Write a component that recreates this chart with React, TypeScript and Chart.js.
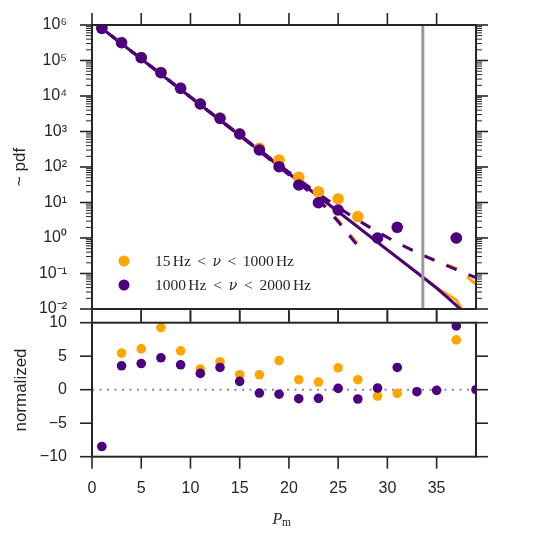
import React, { useEffect, useRef } from "react";
import { Chart, registerables } from "chart.js";

Chart.register(...registerables);

const ORANGE = "#FFA500";
const PURPLE = "#4B0082";
const INK = "#262626";
const CUTOFF_GRAY = "#9a9a9a";
const ZERO_GRAY = "#8a8a8a";
const SANS = '"Liberation Sans", Arial, sans-serif';
const SERIF = '"Liberation Serif", "Times New Roman", serif';
const GREEK = '"DejaVu Serif", serif';

// Binned distribution, 15 Hz < nu < 1000 Hz
const orangePm = [1, 3, 5, 7, 9, 11, 13, 15, 17, 19, 21, 23, 25, 27, 37];
const orangePdf = [8.2e5, 3.22e5, 1.22e5, 4.6e4, 1.68e4, 6050, 2390, 865, 337, 157, 51, 20.1, 12.6, 4.0, 1];

// Binned distribution, 1000 Hz < nu < 2000 Hz
const purplePm = [1, 3, 5, 7, 9, 11, 13, 15, 17, 19, 21, 23, 25, 29, 31, 37];
const purplePdf = [8.07e5, 3.17e5, 1.2e5, 4.53e4, 1.65e4, 5960, 2350, 851, 301, 102, 31.1, 9.86, 6.15, 1, 2, 1];

// Model curves (solid)
const fitPm = [0, 10, 20, 30, 34, 35, 36, 37, 38];
const purpleFit = [1.32e6, 9330, 65.8, 0.463, 0.0646, 0.039, 0.0224, 0.0126, 0.00708];
const orangeFit = [1.32e6, 9330, 65.8, 0.463, 0.0646, 0.039, 0.0269, 0.0178, 0.0063];

// Upper envelope (dashed)
const upperPm = [0, 5, 10, 13, 15, 17, 19, 21, 23, 25, 27, 29, 31, 33, 35, 37, 38, 39];
const purpleUpper = [1.32e6, 1.113e5, 9390, 2140, 801, 302, 115, 44.6, 17.7, 7.31, 3.18, 1.48, 0.735, 0.391, 0.22, 0.128, 0.098, 0.077];
const orangeUpper = [1.32e6, 1.113e5, 9390, 2140, 801, 302, 115, 44.6, 17.7, 7.31, 3.18, 1.48, 0.735, 0.391, 0.225, 0.14, 0.085, 0.05];

// Lower envelope (dashed)
const lowerPm = [0, 10, 15, 17, 19, 21, 23, 25, 27];
const purpleLower = [1.32e6, 9280, 765, 280, 101, 35.6, 12.1, 2.9, 0.6];
const orangeLower = [1.32e6, 9280, 770, 284, 103, 37, 12.8, 3.2, 0.68];

// Cut-off marker
const cutoffPm = [33.6, 33.6];
const cutoffPdf = [1e-2, 1e6];

// Normalized residuals
const residPurplePm = [1, 3, 5, 7, 9, 11, 13, 15, 17, 19, 21, 23, 25, 27, 29, 31, 33, 35, 37, 39];
const residPurple = [-8.48, 3.57, 3.9, 4.76, 3.72, 2.43, 3.32, 1.24, -0.5, -0.67, -1.34, -1.29, 0.2, -1.39, 0.25, 3.32, -0.3, -0.1, 9.52, 0];
const residOrangePm = [3, 5, 7, 9, 11, 13, 15, 17, 19, 21, 23, 25, 27, 29, 31, 37];
const residOrange = [5.46, 6.1, 9.27, 5.8, 3.08, 4.17, 2.23, 2.23, 4.34, 1.49, 1.14, 3.27, 1.49, -0.94, -0.55, 7.44];
const zeroPm = [0, 39];
const zeroLevel = [0, 0];

// Axis ticks
const pdfTicks = [1e-2, 1e-1, 1, 10, 100, 1e3, 1e4, 1e5, 1e6];
const pdfTickLabels = ["10⁻²", "10⁻¹", "10⁰", "10¹", "10²", "10³", "10⁴", "10⁵", "10⁶"];
const pmTicks = [0, 5, 10, 15, 20, 25, 30, 35];
const pmTickLabels = ["0", "5", "10", "15", "20", "25", "30", "35"];
const residTicks = [-10, -5, 0, 5, 10];
const residTickLabels = ["−10", "−5", "0", "5", "10"];

const legendTokens = [
  ["15", "Hz", "<", "ν", "<", "1000", "Hz"],
  ["1000", "Hz", "<", "ν", "<", "2000", "Hz"],
];
const legendColors = [ORANGE, PURPLE];

const pts = (xs: number[], ys: number[]) => xs.map((x, i) => ({ x, y: ys[i] }));

function seg(ctx: CanvasRenderingContext2D, x1: number, y1: number, x2: number, y2: number) {
  ctx.beginPath();
  ctx.moveTo(x1, y1);
  ctx.lineTo(x2, y2);
  ctx.stroke();
}

function drawMathLabel(ctx: CanvasRenderingContext2D, tokens: string[], x0: number, baseline: number, width: number) {
  const roman = `15.5px ${SERIF}`;
  const italic = `italic 14px ${GREEK}`;
  const fonts = tokens.map((t) => (t === "ν" ? italic : roman));
  const widths = tokens.map((t, i) => {
    ctx.font = fonts[i];
    return ctx.measureText(t).width;
  });
  const gapWeights = tokens.slice(1).map((t) => (t === "Hz" ? 0.35 : 1));
  const free = width - widths.reduce((s, w) => s + w, 0);
  const unit = free / gapWeights.reduce((s, w) => s + w, 0);
  let x = x0;
  ctx.textAlign = "left";
  ctx.textBaseline = "alphabetic";
  tokens.forEach((t, i) => {
    ctx.font = fonts[i];
    ctx.fillText(t, x, baseline);
    x += widths[i] + (i < gapWeights.length ? gapWeights[i] * unit : 0);
  });
}

function drawRotatedTitle(ctx: CanvasRenderingContext2D, text: string, cx: number, cy: number) {
  ctx.save();
  ctx.translate(cx, cy);
  ctx.rotate(-Math.PI / 2);
  ctx.font = `17px ${SANS}`;
  ctx.fillStyle = INK;
  ctx.textAlign = "center";
  ctx.textBaseline = "middle";
  ctx.fillText(text, 0, 0);
  ctx.restore();
}

const pdfFrame = {
  id: "pdfFrame",
  afterDraw(chart: any) {
    const { ctx, chartArea: a } = chart;
    const xs = chart.scales.x;
    const ys = chart.scales.y;
    ctx.save();
    ctx.strokeStyle = INK;
    ctx.lineWidth = 1;
    for (let e = -2; e < 6; e++) {
      for (let m = 2; m < 10; m++) {
        const py = ys.getPixelForValue(m * Math.pow(10, e));
        seg(ctx, a.left - 6, py, a.left, py);
        seg(ctx, a.right, py, a.right + 6, py);
      }
    }
    ctx.lineWidth = 1.6;
    pdfTicks.forEach((v) => {
      const py = ys.getPixelForValue(v);
      seg(ctx, a.left - 12, py, a.left, py);
      seg(ctx, a.right, py, a.right + 12, py);
    });
    pmTicks.forEach((v) => {
      const px = xs.getPixelForValue(v);
      seg(ctx, px, a.top - 12, px, a.top);
      seg(ctx, px, a.bottom, px, a.bottom + 12);
    });
    ctx.lineWidth = 2;
    ctx.strokeRect(a.left, a.top, a.right - a.left, a.bottom - a.top);

    // legend
    const rows = [261, 285];
    const textWidths = [139, 156];
    legendTokens.forEach((tokens, i) => {
      ctx.fillStyle = legendColors[i];
      ctx.beginPath();
      ctx.arc(124, rows[i], 5.5, 0, Math.PI * 2);
      ctx.fill();
      ctx.fillStyle = INK;
      drawMathLabel(ctx, tokens, 155, rows[i] + 5, textWidths[i]);
    });

    drawRotatedTitle(ctx, "~ pdf", 20, 167);
    ctx.restore();
  },
};

const residFrame = {
  id: "residFrame",
  afterDraw(chart: any) {
    const { ctx, chartArea: a } = chart;
    const xs = chart.scales.x;
    const ys = chart.scales.y;
    ctx.save();
    ctx.strokeStyle = INK;
    ctx.lineWidth = 1.6;
    residTicks.forEach((v) => {
      const py = ys.getPixelForValue(v);
      seg(ctx, a.left - 12, py, a.left, py);
      seg(ctx, a.right, py, a.right + 12, py);
    });
    pmTicks.forEach((v) => {
      const px = xs.getPixelForValue(v);
      seg(ctx, px, a.top - 12, px, a.top);
      seg(ctx, px, a.bottom, px, a.bottom + 12);
    });
    ctx.lineWidth = 2;
    ctx.strokeRect(a.left, a.top, a.right - a.left, a.bottom - a.top);

    drawRotatedTitle(ctx, "normalized", 21, 90);

    // x-axis title: P_m
    ctx.fillStyle = INK;
    ctx.textAlign = "left";
    ctx.textBaseline = "alphabetic";
    ctx.font = `italic 16px ${SERIF}`;
    ctx.fillText("P", 272.5, 223.5);
    ctx.font = `11.5px ${SERIF}`;
    ctx.fillText("m", 282, 225.5);
    ctx.restore();
  },
};

const pointSet = (label: string, data: any[], color: string, r: number) => ({
  label,
  data,
  showLine: false,
  pointRadius: r,
  pointBackgroundColor: color,
  pointBorderWidth: 0,
  borderColor: color,
  clip: 0,
});

const lineSet = (label: string, data: any[], color: string, dash: number[] = []) => ({
  label,
  data,
  showLine: true,
  pointRadius: 0,
  borderColor: color,
  borderWidth: 3,
  borderDash: dash,
  tension: 0,
  clip: 0,
});

const DASH = [11, 13];

// fixed axis box sizes, without label overhang padding
const fixWidth = (w: number) => (s: any) => {
  s.width = w;
  s.paddingTop = 0;
  s.paddingBottom = 0;
};
const fixHeight = (h: number) => (s: any) => {
  s.height = h;
  s.paddingLeft = 0;
  s.paddingRight = 0;
};

export default function App() {
  const topRef = useRef<HTMLCanvasElement>(null);
  const botRef = useRef<HTMLCanvasElement>(null);

  useEffect(() => {
    const tickFont = { family: SANS, size: 16 };

    const top = new Chart(topRef.current as HTMLCanvasElement, {
      type: "scatter",
      data: {
        datasets: [
          pointSet("1000 Hz < ν < 2000 Hz", pts(purplePm, purplePdf), PURPLE, 5.8),
          pointSet("15 Hz < ν < 1000 Hz", pts(orangePm, orangePdf), ORANGE, 5.8),
          lineSet("cut-off", pts(cutoffPm, cutoffPdf), CUTOFF_GRAY),
          lineSet("fit 1000–2000 Hz", pts(fitPm, purpleFit), PURPLE),
          lineSet("upper 1000–2000 Hz", pts(upperPm, purpleUpper), PURPLE, DASH),
          lineSet("lower 1000–2000 Hz", pts(lowerPm, purpleLower), PURPLE, DASH),
          lineSet("fit 15–1000 Hz", pts(fitPm, orangeFit), ORANGE),
          lineSet("upper 15–1000 Hz", pts(upperPm, orangeUpper), ORANGE, DASH),
          lineSet("lower 15–1000 Hz", pts(lowerPm, orangeLower), ORANGE, DASH),
        ] as any,
      },
      options: {
        responsive: false,
        maintainAspectRatio: false,
        animation: false,
        events: [],
        layout: { padding: { left: 0, right: 64, top: 25, bottom: 21 } },
        plugins: { legend: { display: false }, tooltip: { enabled: false } },
        scales: {
          x: { type: "linear", min: 0, max: 39, display: false },
          y: {
            type: "logarithmic",
            min: 1e-2,
            max: 1e6,
            afterFit: fixWidth(92),
            afterBuildTicks: (s: any) => {
              s.ticks = pdfTicks.map((value) => ({ value }));
            },
            grid: { display: false, drawTicks: false },
            border: { display: false },
            ticks: {
              autoSkip: false,
              padding: 25,
              color: INK,
              font: tickFont,
              callback: (_v: any, i: number) => pdfTickLabels[i],
            },
          },
        },
      } as any,
      plugins: [pdfFrame],
    });

    const bot = new Chart(botRef.current as HTMLCanvasElement, {
      type: "scatter",
      data: {
        datasets: [
          pointSet("1000 Hz < ν < 2000 Hz", pts(residPurplePm, residPurple), PURPLE, 4.8),
          pointSet("15 Hz < ν < 1000 Hz", pts(residOrangePm, residOrange), ORANGE, 4.8),
          {
            label: "zero",
            data: pts(zeroPm, zeroLevel),
            showLine: true,
            pointRadius: 0,
            borderColor: ZERO_GRAY,
            borderWidth: 2,
            borderDash: [2, 5.5],
            clip: 0,
          },
        ] as any,
      },
      options: {
        responsive: false,
        maintainAspectRatio: false,
        animation: false,
        events: [],
        layout: { padding: { left: 0, right: 64, top: 22.7, bottom: 0 } },
        plugins: { legend: { display: false }, tooltip: { enabled: false } },
        scales: {
          x: {
            type: "linear",
            min: 0,
            max: 39,
            position: "bottom",
            afterFit: fixHeight(83.3),
            afterBuildTicks: (s: any) => {
              s.ticks = pmTicks.map((value) => ({ value }));
            },
            grid: { display: false, drawTicks: false },
            border: { display: false },
            ticks: {
              autoSkip: false,
              maxRotation: 0,
              padding: 22,
              color: INK,
              font: tickFont,
              callback: (_v: any, i: number) => pmTickLabels[i],
            },
          },
          y: {
            type: "linear",
            min: -10,
            max: 10,
            afterFit: fixWidth(92),
            afterBuildTicks: (s: any) => {
              s.ticks = residTicks.map((value) => ({ value }));
            },
            grid: { display: false, drawTicks: false },
            border: { display: false },
            ticks: {
              autoSkip: false,
              padding: 25,
              color: INK,
              font: tickFont,
              callback: (_v: any, i: number) => residTickLabels[i],
            },
          },
        },
      } as any,
      plugins: [residFrame],
    });

    return () => {
      top.destroy();
      bot.destroy();
    };
  }, []);

  return (
    <div style={{ position: "absolute", left: 0, top: 0, width: 540, height: 540, background: "#ffffff" }}>
      <canvas
        ref={topRef}
        width={540}
        height={330}
        style={{ position: "absolute", left: 0, top: 0, width: 540, height: 330 }}
      />
      <canvas
        ref={botRef}
        width={540}
        height={240}
        style={{ position: "absolute", left: 0, top: 300, width: 540, height: 240 }}
      />
    </div>
  );
}
